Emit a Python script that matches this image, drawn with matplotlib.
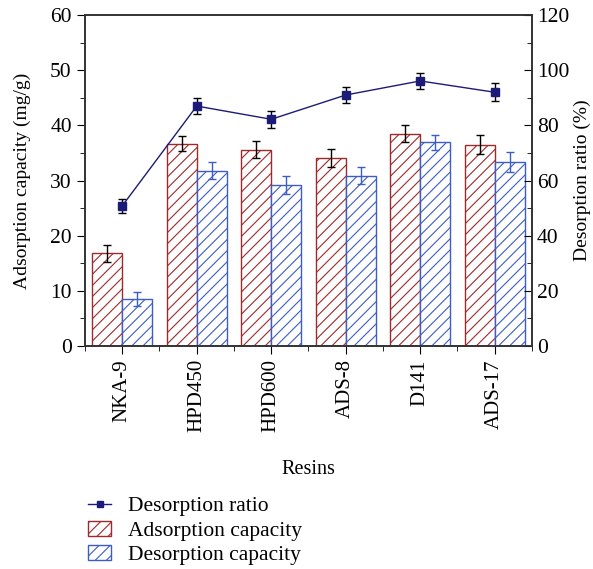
import matplotlib
matplotlib.use("Agg")
import matplotlib.pyplot as plt
import numpy as np
from matplotlib.ticker import MultipleLocator, FixedLocator

plt.rcParams['font.family'] = ['Liberation Serif', 'DejaVu Serif']
plt.rcParams['hatch.linewidth'] = 0.8

# data
resins = ['NKA-9', 'HPD450', 'HPD600', 'ADS-8', 'D141', 'ADS-17']
adsorption = [16.8, 36.7, 35.6, 34.1, 38.5, 36.5]
adsorption_err = [1.5, 1.4, 1.6, 1.7, 1.5, 1.7]
desorption = [8.5, 31.8, 29.2, 30.9, 36.9, 33.4]
desorption_err = [1.3, 1.6, 1.7, 1.6, 1.4, 1.8]
ratio = [50.8, 87.0, 82.2, 91.0, 96.1, 92.0]
ratio_err = [2.6, 3.0, 3.0, 2.8, 2.9, 3.3]

red = '#9e2a2b'
blue = '#3d5cc4'
navy = '#1c1c78'

fig = plt.figure(figsize=(5.93, 5.69), dpi=100)
ax = fig.add_axes([0.1433, 0.3919, 0.7538, 0.5817])
x = np.arange(len(resins))
w = 0.4

b1 = ax.bar(x - w / 2, adsorption, w, facecolor='white', edgecolor=red,
            hatch='///', linewidth=1.0, label='Adsorption capacity')
ax.errorbar(x - w / 2, adsorption, yerr=adsorption_err, fmt='none',
            ecolor='black', elinewidth=1, capsize=3, capthick=1)
b2 = ax.bar(x + w / 2, desorption, w, facecolor='white', edgecolor=blue,
            hatch='///', linewidth=1.0, label='Desorption capacity')
ax.errorbar(x + w / 2, desorption, yerr=desorption_err, fmt='none',
            ecolor=blue, elinewidth=1, capsize=3, capthick=1)

ax.set_xlim(-0.5, len(resins) - 0.5)
ax.set_ylim(0, 60)
ax.set_xticks(x)
ax.set_xticklabels(resins, rotation=90, fontsize=15)
ax.xaxis.set_minor_locator(FixedLocator(np.arange(-0.5, len(resins), 1.0)))
ax.yaxis.set_major_locator(MultipleLocator(10))
ax.yaxis.set_minor_locator(MultipleLocator(5))
ax.tick_params(axis='both', which='major', direction='out', length=6)
ax.tick_params(axis='y', labelsize=15.5)
ax.tick_params(axis='both', which='minor', direction='out', length=3.5)
ax.set_ylabel('Adsorption capacity (mg/g)', fontsize=14, labelpad=14)
ax.set_xlabel('Resins', fontsize=14.5, labelpad=20)

ax2 = ax.twinx()
ax2.errorbar(x, ratio, yerr=ratio_err, color=navy, marker='s', markersize=6,
             linewidth=1, ecolor='black', elinewidth=1, capsize=3, capthick=1,
             label='Desorption ratio')
ax2.set_ylim(0, 120)
ax2.yaxis.set_major_locator(MultipleLocator(20))
ax2.yaxis.set_minor_locator(MultipleLocator(10))
ax2.tick_params(axis='y', which='major', direction='in', length=6, labelsize=15.5)
ax2.tick_params(axis='y', which='minor', direction='in', length=3.5)
ax2.set_ylabel('Desorption ratio (%)', fontsize=14, labelpad=3)

for a in (ax, ax2):
    for s in a.spines.values():
        s.set_color('#333333')
        s.set_linewidth(1.2)

line_handle = plt.Line2D([], [], color=navy, marker='s', markersize=5, linewidth=1)
fig.legend([line_handle, b1, b2],
           ['Desorption ratio', 'Adsorption capacity', 'Desorption capacity'],
           loc='upper left', bbox_to_anchor=(0.148, 0.128), frameon=False,
           fontsize=15.5, handlelength=1.1, handletextpad=0.75, labelspacing=0.2,
           borderpad=0, borderaxespad=0)

fig.savefig('out.png', dpi=100)
